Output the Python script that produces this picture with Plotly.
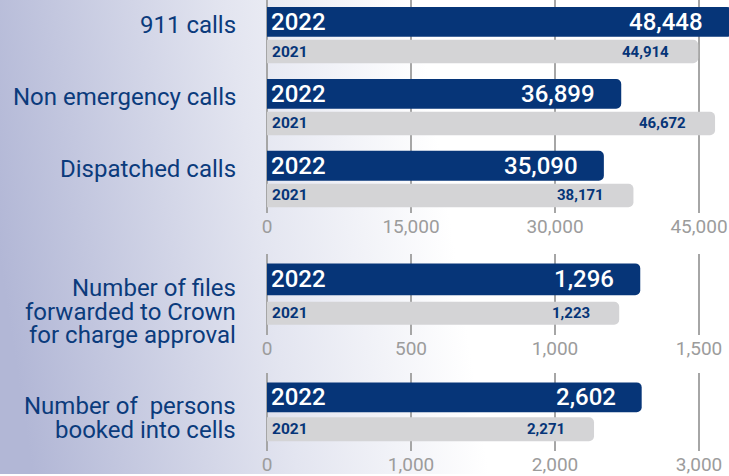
import base64
import plotly.graph_objects as go

# ---------------- data ----------------
calls_categories = ["911 calls", "Non emergency calls", "Dispatched calls"]
calls_2022 = [48448, 36899, 35090]
calls_2021 = [44914, 46672, 38171]

files_category = ["Number of files forwarded to Crown for charge approval"]
files_label_lines = ["Number of files", "forwarded to Crown", "for charge approval"]
files_2022 = [1296]
files_2021 = [1223]

persons_category = ["Number of persons booked into cells"]
persons_label_lines = ["Number of\u00a0 persons", "booked into cells"]
persons_2022 = [2602]
persons_2021 = [2271]

year_current = "2022"
year_previous = "2021"

calls_ticks = [0, 15000, 30000, 45000]
files_ticks = [0, 500, 1000, 1500]
persons_ticks = [0, 1000, 2000, 3000]

# ---------------- style ----------------
W, H = 729, 476
NAVY = "#063578"
GREY_BAR = "#d4d4d6"
LABEL = "#0b3b7c"
TICK = "#9c9c9c"
GRID = "#a6a6a6"
FONT = "Roboto"

X0_PX = 267          # pixel of value 0
X_TICKEND_PX = 699   # pixel of last tick
LEFT_DOMAIN_PX = 261
UNIT = 72.25         # px per category unit

def x_range(last_tick):
    per_px = last_tick / (X_TICKEND_PX - X0_PX)
    return [-(X0_PX - LEFT_DOMAIN_PX) * per_px, (W - X0_PX) * per_px]

def ydom(top_px, bottom_px):
    return [1 - bottom_px / H, 1 - top_px / H]

panels = [
    dict(cats=calls_categories, v22=calls_2022, v21=calls_2021, ticks=calls_ticks,
         top=0, bottom=214, center=22, nav_h=30, gry_top=40, gry_h=23.5),
    dict(cats=files_category, v22=files_2022, v21=files_2021, ticks=files_ticks,
         top=255, bottom=336, center=280.5, nav_h=32, gry_top=303, gry_h=23),
    dict(cats=persons_category, v22=persons_2022, v21=persons_2021, ticks=persons_ticks,
         top=375, bottom=453, center=399, nav_h=30, gry_top=419, gry_h=24),
]

fig = go.Figure()
annotations = []
layout_axes = {}

for i, p in enumerate(panels):
    n = i + 1
    xa = "x" if n == 1 else f"x{n}"
    ya = "y" if n == 1 else f"y{n}"
    xr = x_range(p["ticks"][-1])
    nav_off = -p["nav_h"] / 2 / UNIT
    nav_w = p["nav_h"] / UNIT
    gry_off = (p["gry_top"] - p["center"]) / UNIT
    gry_w = p["gry_h"] / UNIT

    fig.add_trace(go.Bar(
        y=p["cats"], x=p["v22"], orientation="h", xaxis=xa, yaxis=ya,
        width=nav_w, offset=nav_off, marker=dict(color=NAVY, line_width=0),
        showlegend=False, hoverinfo="skip"))
    fig.add_trace(go.Bar(
        y=p["cats"], x=p["v21"], orientation="h", xaxis=xa, yaxis=ya,
        width=gry_w, offset=gry_off, marker=dict(color=GREY_BAR, line_width=0),
        showlegend=False, hoverinfo="skip"))

    yr = [(p["bottom"] - p["center"]) / UNIT, (p["top"] - p["center"]) / UNIT]
    layout_axes["xaxis" if n == 1 else f"xaxis{n}"] = dict(
        domain=[LEFT_DOMAIN_PX / W, 1], range=xr, anchor=ya,
        tickvals=p["ticks"], ticktext=[f"{t:,}" for t in p["ticks"]],
        tickfont=dict(family=FONT, size=19, color=TICK),
        showgrid=True, gridcolor=GRID, gridwidth=2.5, zeroline=False,
        showline=False, ticks="", fixedrange=True)
    layout_axes["yaxis" if n == 1 else f"yaxis{n}"] = dict(
        domain=ydom(p["top"], p["bottom"]), anchor=xa, type="category",
        range=yr, showticklabels=False, showgrid=False, zeroline=False,
        fixedrange=True)

    xmax = xr[1] * 0.9999
    for k, cat in enumerate(p["cats"]):
        annotations.append(dict(
            xref=xa, yref=ya, x=0, y=k, xanchor="left", yanchor="middle",
            xshift=2, text=year_current, showarrow=False,
            font=dict(family=FONT, size=24, color="white", weight=500)))
        annotations.append(dict(
            xref=xa, yref=ya, x=0, y=k + gry_off + gry_w / 2, xanchor="left",
            yanchor="middle", xshift=3, text=year_previous, showarrow=False,
            font=dict(family=FONT, size=15.5, color=NAVY, weight="bold")))
        annotations.append(dict(
            xref=xa, yref=ya, x=min(p["v22"][k], xmax), y=k, xanchor="right",
            yanchor="middle", xshift=-24, text=f"{p['v22'][k]:,}", showarrow=False,
            font=dict(family=FONT, size=24, color="white", weight=500)))
        annotations.append(dict(
            xref=xa, yref=ya, x=min(p["v21"][k], xmax), y=k + gry_off + gry_w / 2,
            xanchor="right", yanchor="middle", xshift=-27, text=f"{p['v21'][k]:,}",
            showarrow=False,
            font=dict(family=FONT, size=15, color=NAVY, weight="bold")))

# category labels
LABEL_X = 238 / W
LABEL_SIZE = 24
for k, cat in enumerate(calls_categories):
    annotations.append(dict(
        xref="paper", yref="y", x=LABEL_X, y=k, xanchor="right", yanchor="middle",
        yshift=-3, text=cat, showarrow=False,
        font=dict(family=FONT, size=LABEL_SIZE, color=LABEL)))

PITCH = 23.5
def add_multiline(lines, yref, center_shift):
    m = len(lines)
    for j, line in enumerate(lines):
        off = center_shift + PITCH * (j - (m - 1) / 2)
        annotations.append(dict(
            xref="paper", yref=yref, x=LABEL_X, y=0, xanchor="right",
            yanchor="middle", yshift=-off, text=line, showarrow=False,
            font=dict(family=FONT, size=LABEL_SIZE, color=LABEL)))

add_multiline(files_label_lines, "y2", 313 - 280.5)
add_multiline(persons_label_lines, "y3", 419.5 - 399)

# background gradient
svg = (
    f'<svg xmlns="http://www.w3.org/2000/svg" width="{W}" height="{H}" '
    f'viewBox="0 0 {W} {H}" preserveAspectRatio="none">'
    '<defs><linearGradient id="g" x1="0" y1="0.55" x2="1" y2="0.45">'
    '<stop offset="0" stop-color="#b2b7d6"/>'
    '<stop offset="0.36" stop-color="#e3e5f0"/>'
    '<stop offset="0.62" stop-color="#ffffff"/>'
    '<stop offset="1" stop-color="#ffffff"/>'
    '</linearGradient></defs>'
    f'<rect width="{W}" height="{H}" fill="url(#g)"/></svg>'
)
bg_src = "data:image/svg+xml;base64," + base64.b64encode(svg.encode()).decode()

fig.update_layout(
    width=W, height=H,
    margin=dict(l=0, r=0, t=0, b=0, pad=0),
    paper_bgcolor="white", plot_bgcolor="rgba(0,0,0,0)",
    barmode="overlay", barcornerradius=5,
    showlegend=False,
    annotations=annotations,
    images=[dict(source=bg_src, xref="paper", yref="paper", x=0, y=1,
                 sizex=1, sizey=1, sizing="stretch", layer="below",
                 xanchor="left", yanchor="top")],
    **layout_axes,
)

fig.write_html(
    "out.html",
    config={"displayModeBar": False, "staticPlot": True},
    post_script="document.body.style.margin='0';document.body.style.overflow='hidden';",
)
